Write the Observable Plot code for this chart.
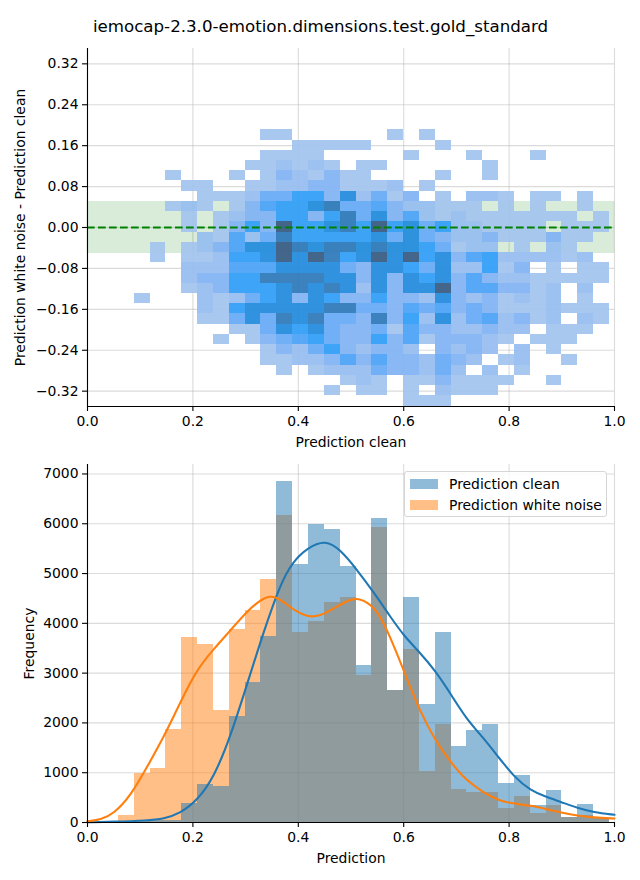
<!DOCTYPE html>
<html>
<head>
<meta charset="utf-8">
<script src="https://cdn.jsdelivr.net/npm/d3@7"></script>
<script src="https://cdn.jsdelivr.net/npm/@observablehq/plot@0.6"></script>
<style>
  html, body { margin: 0; padding: 0; background: #fff; }
  #page { position: relative; width: 640px; height: 880px; overflow: hidden; font-family: "DejaVu Sans", sans-serif; color: #000; }
  #title { position: absolute; left: 0; width: 641px; top: 16px; text-align: center; font-size: 16.67px; line-height: 22px; white-space: nowrap; }
  #top { position: absolute; left: 0; top: 40px; }
  #bottom { position: absolute; left: 0; top: 445px; }
  #legend { position: absolute; left: 404px; top: 471px; width: 203px; height: 46px; box-sizing: border-box; background: rgba(255,255,255,0.8); border: 1px solid #d6d6d6; border-radius: 3px; font-size: 13.9px; }
  .row { position: absolute; left: 5px; display: flex; align-items: center; height: 16px; white-space: nowrap; }
  .sw { width: 28px; height: 10px; margin-right: 11px; }
  svg { display: block; }
</style>
</head>
<body>
<div id="page">
  <div id="title"></div>
  <div id="top"></div>
  <div id="bottom"></div>
  <div id="legend"></div>
</div>
<script>
const titleText = "iemocap-2.3.0-emotion.dimensions.test.gold_standard";
const seriesNames = ["Prediction clean", "Prediction white noise"];
const seriesColors = ["#1f77b4", "#ff7f0e"];

const binEdges = [.0285,.0586,.0886,.1187,.1487,.1788,.2089,.2389,.2690,.2990,.3291,.3592,.3892,.4193,.4493,.4794,.5095,.5395,.5696,.5996,.6297,.6598,.6898,.7199,.7499,.7800,.8101,.8401,.8702,.9002,.9303,.9604,.9904];
const rowEdges = [.191,.171,.151,.131,.111,.091,.071,.051,.031,.011,-.009,-.029,-.049,-.069,-.089,-.109,-.129,-.149,-.169,-.189,-.209,-.229,-.249,-.269,-.289,-.309,-.329,-.35];

// Density level of each 2D cell (0 = empty), row by row from the top
const heatLevels = [
 [0,0,0,0,0,0,0,0,0,0, 1,1,0,0,0,0,0,0,1,0, 1,0,0,0,0,0,0,0,0,0,0,0],
 [0,0,0,0,0,0,0,0,0,0, 0,0,1,1,1,1,1,0,0,0, 0,1,0,0,0,0,0,0,0,0,0,0],
 [0,0,0,0,0,0,0,0,0,0, 1,1,1,1,0,0,0,0,0,1, 0,0,0,1,0,0,0,1,0,0,0,0],
 [0,0,0,0,0,0,0,0,0,1, 1,2,1,2,1,0,1,1,0,0, 0,0,0,0,1,0,0,0,0,0,0,0],
 [0,0,0,0,1,0,0,0,1,0, 1,3,2,1,3,1,1,0,0,0, 0,1,0,0,1,0,0,0,0,0,0,0],
 [0,0,0,0,0,1,1,0,0,1, 1,2,2,3,3,1,1,1,2,0, 1,0,0,0,0,0,0,0,0,0,0,0],
 [0,0,0,0,0,0,1,1,1,2, 4,4,6,6,3,7,2,4,1,3, 0,1,0,2,2,1,0,1,1,0,1,0],
 [0,0,0,0,1,2,1,0,1,3, 5,6,6,7,8,4,4,5,3,2, 2,1,1,1,0,1,0,1,0,0,1,0],
 [0,0,0,0,0,1,0,1,2,3, 3,6,6,3,6,8,4,7,3,5, 2,1,2,1,1,1,1,1,1,1,0,1],
 [0,0,0,0,0,1,0,1,3,6, 3,9,6,6,7,8,6,9,6,7, 4,6,2,2,1,1,1,1,0,1,1,1],
 [0,0,0,0,0,0,2,1,5,2, 4,8,6,6,6,6,6,7,4,7, 4,3,2,2,3,1,1,1,3,1,1,0],
 [0,0,0,1,0,1,2,3,5,7, 7,9,8,7,8,8,7,8,7,7, 6,4,1,2,2,0,1,0,2,1,0,0],
 [0,0,0,1,0,1,1,2,6,6, 7,9,7,9,8,6,7,9,7,9, 6,7,3,5,6,2,2,2,2,1,2,0],
 [0,0,0,0,0,2,2,2,5,5, 5,7,7,7,7,4,3,7,7,6, 4,7,2,2,6,1,3,0,1,0,1,1],
 [0,0,0,0,0,2,3,3,6,6, 8,8,8,8,7,7,3,7,3,7, 6,7,3,5,3,2,2,1,1,1,1,1],
 [0,0,0,0,0,1,2,3,6,6, 6,7,8,7,8,7,2,7,3,7, 7,9,3,5,5,3,3,1,2,0,2,0],
 [0,0,1,0,0,0,2,1,2,4, 6,7,3,7,6,3,3,6,3,3, 2,7,3,2,3,1,2,1,2,0,1,0],
 [0,0,0,0,0,0,2,1,6,7, 7,7,7,7,8,8,4,4,3,5, 4,5,3,4,3,1,1,1,2,1,1,1],
 [0,0,0,0,0,0,1,1,4,7, 4,8,7,8,4,4,3,8,3,6, 2,7,2,4,5,2,3,1,2,0,2,1],
 [0,0,0,0,0,0,0,0,1,1, 4,7,6,7,4,3,3,4,1,5, 3,3,2,2,3,2,2,0,1,1,1,0],
 [0,0,0,0,0,0,0,1,0,1, 3,4,5,6,4,3,3,6,3,5, 1,3,3,3,2,1,0,1,1,1,0,0],
 [0,0,0,0,0,0,0,0,0,0, 1,3,2,4,6,3,2,3,3,2, 0,3,2,3,2,0,2,0,1,0,0,0],
 [0,0,0,0,0,0,0,0,0,0, 1,1,2,2,3,5,3,5,3,3, 2,4,3,2,0,1,2,0,0,1,0,0],
 [0,0,0,0,0,0,0,0,0,0, 0,1,0,1,2,2,2,4,3,3, 2,4,2,0,2,0,1,0,0,0,0,0],
 [0,0,0,0,0,0,0,0,0,0, 0,0,0,0,0,1,2,1,0,1, 1,3,1,1,1,1,0,0,1,0,0,0],
 [0,0,0,0,0,0,0,0,0,0, 0,0,0,0,1,0,1,1,0,1, 0,2,1,1,1,0,0,0,0,0,0,0],
 [0,0,0,0,0,0,0,0,0,0, 0,0,0,0,0,0,0,0,0,1, 1,1,0,0,0,0,0,0,0,0,0,0]
];
const levelDomain = [1,2,3,4,5,6,7,8,9];
const levelColors = ["#a3c4ee","#96bdf0","#80b3f3","#66aaf6","#4aa3f8","#2f9df6","#218bdd","#2c78ba","#365a82"];

const band = [{x1: 0, x2: 1, y1: -0.05, y2: 0.05}];

const histClean = [25,30,35,35,40,380,760,720,2130,2810,3735,6850,5180,5985,5885,5140,3155,6105,2650,4520,2370,3815,1525,1850,1970,785,945,340,640,100,360,75];
const histNoise = [15,140,990,1085,1865,3715,3575,2250,3875,4255,4880,6165,3815,4035,4420,4520,2950,5925,2650,3475,1025,1970,660,600,600,280,520,180,340,100,140,85];

const kdeCleanX = [0,.050,.113,.145,.176,.208,.240,.271,.303,.335,.366,.389,.417,.452,.480,.510,.543,.575,.600,.630,.660,.691,.719,.750,.780,.810,.841,.869,.899,.930,.960,1];
const kdeCleanY = [5,15,40,75,185,440,910,1715,2785,3855,4790,5230,5515,5680,5475,5095,4625,4125,3755,3420,3050,2550,2080,1715,1310,910,640,520,410,290,205,155];
const kdeNoiseX = [0,.025,.050,.082,.113,.151,.176,.208,.240,.271,.303,.328,.347,.366,.392,.427,.456,.487,.510,.531,.550,.575,.600,.630,.660,.691,.719,.750,.780,.810,.841,.869,.899,.930,.960,1];
const kdeNoiseY = [25,55,175,540,1110,1845,2415,3085,3490,3855,4245,4470,4560,4490,4255,4090,4225,4425,4520,4425,4255,3720,3050,2250,1645,1180,845,610,440,375,340,275,200,135,100,80];

const xTicks = [0,0.2,0.4,0.6,0.8,1];
const yTicksTop = [-0.32,-0.24,-0.16,-0.08,0,0.08,0.16,0.24,0.32];
const yTicksBottom = [0,1000,2000,3000,4000,5000,6000,7000];

const fontStyle = {fontFamily: '"DejaVu Sans", sans-serif', fontSize: "13.9px", color: "#000", background: "transparent", overflow: "visible"};
const gridStyle = {stroke: "#b0b0b0", strokeOpacity: 0.45, strokeWidth: 1.1};
const fmtMinus = f => v => f(v).replace("-", "\u2212");
const xTick = {tickSize: 5, tickPadding: 5, strokeWidth: 1.1, labelArrow: "none", labelAnchor: "center"};
const yTick = {tickSize: 5, tickPadding: 4, strokeWidth: 1.1, labelArrow: "none", labelAnchor: "center"};

const cells = [];
heatLevels.forEach((row, r) => row.forEach((level, c) => {
  if (level > 0) cells.push({x1: binEdges[c], x2: binEdges[c + 1], y1: rowEdges[r + 1], y2: rowEdges[r], level});
}));

const topPlot = Plot.plot({
  width: 640, height: 405, marginLeft: 87, marginRight: 26, marginTop: 8, marginBottom: 39,
  style: fontStyle,
  x: {domain: [0, 1]},
  y: {domain: [-0.35, 0.35]},
  color: {type: "ordinal", domain: levelDomain, range: levelColors},
  marks: [
    Plot.gridX(xTicks, gridStyle),
    Plot.gridY(yTicksTop, gridStyle),
    Plot.rect(band, {x1: "x1", x2: "x2", y1: "y1", y2: "y2", fill: "green", fillOpacity: 0.15, stroke: "green", strokeOpacity: 0.08}),
    Plot.rect(cells, {x1: "x1", x2: "x2", y1: "y1", y2: "y2", fill: "level", fillOpacity: 0.93, shapeRendering: "crispEdges"}),
    Plot.ruleY([0], {stroke: "green", strokeWidth: 2.08, strokeDasharray: "7.7 3.3"}),
    Plot.axisX(xTicks, {...xTick, tickFormat: d3.format(".1f"), label: "Prediction clean", labelOffset: 40}),
    Plot.axisY(yTicksTop, {...yTick, tickFormat: fmtMinus(d3.format(".2f")), label: "Prediction white noise - Prediction clean", labelOffset: 72}),
    Plot.ruleX([0], {strokeWidth: 1.1}),
    Plot.ruleY([-0.35], {strokeWidth: 1.1})
  ]
});
document.getElementById("top").append(topPlot);

const histRows = (values) => values.map((v, i) => ({x1: binEdges[i], x2: binEdges[i + 1], y: v}));

const bottomPlot = Plot.plot({
  width: 640, height: 435, marginLeft: 87, marginRight: 26, marginTop: 19, marginBottom: 58,
  style: fontStyle,
  x: {domain: [0, 1]},
  y: {domain: [0, 7190]},
  marks: [
    Plot.gridX(xTicks, gridStyle),
    Plot.gridY(yTicksBottom, gridStyle),
    Plot.rectY(histRows(histNoise), {x1: "x1", x2: "x2", y: "y", fill: seriesColors[1], fillOpacity: 0.5, shapeRendering: "crispEdges"}),
    Plot.rectY(histRows(histClean), {x1: "x1", x2: "x2", y: "y", fill: seriesColors[0], fillOpacity: 0.5, shapeRendering: "crispEdges"}),
    Plot.line(kdeCleanX.map((x, i) => ({x, y: kdeCleanY[i]})), {x: "x", y: "y", stroke: seriesColors[0], strokeWidth: 2.08, curve: "basis"}),
    Plot.line(kdeNoiseX.map((x, i) => ({x, y: kdeNoiseY[i]})), {x: "x", y: "y", stroke: seriesColors[1], strokeWidth: 2.08, curve: "basis"}),
    Plot.axisX(xTicks, {...xTick, tickFormat: d3.format(".1f"), label: "Prediction", labelOffset: 40}),
    Plot.axisY(yTicksBottom, {...yTick, tickFormat: d3.format("d"), label: "Frequency", labelOffset: 63}),
    Plot.ruleX([0], {strokeWidth: 1.1}),
    Plot.ruleY([0], {strokeWidth: 1.1})
  ]
});
document.getElementById("bottom").append(bottomPlot);

document.getElementById("title").textContent = titleText;
const legend = document.getElementById("legend");
seriesNames.forEach((name, i) => {
  const row = document.createElement("div");
  row.className = "row";
  row.style.top = (4 + i * 21) + "px";
  const sw = document.createElement("span");
  sw.className = "sw";
  sw.style.background = seriesColors[i];
  sw.style.opacity = 0.5;
  row.append(sw, document.createTextNode(name));
  legend.append(row);
});
</script>
</body>
</html>
